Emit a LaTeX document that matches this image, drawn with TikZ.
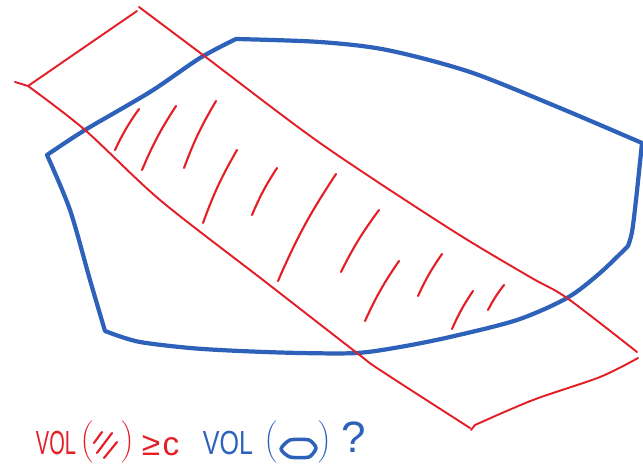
\documentclass[tikz,border=0pt]{standalone}
\usepackage{fontspec}
\setmainfont{Liberation Sans}
\definecolor{penred}{RGB}{228,30,38}
\definecolor{penblue}{RGB}{46,98,186}

\begin{document}
\begin{tikzpicture}[x=0.2mm, y=-0.2mm, line cap=round, line join=round,
    redpen/.style={draw=penred, line width=1.1pt},
    bluepen/.style={draw=penblue, line width=2.4pt},
    hatch/.style={draw=penred, line width=1.2pt},
    redtxt/.style={text=penred, inner sep=0pt},
    bluetxt/.style={text=penblue, inner sep=0pt},
    paren/.style={font=\fontsize{10.5}{12}\selectfont},
    word/.style={font=\fontsize{19}{21}\selectfont}]
  \useasboundingbox (0,0) rectangle (643,464);
  % convex body
  \draw[bluepen] plot[smooth, tension=0.5] coordinates {(47,155) (85,130) (150,92) (200,58) (236,39)}
    -- plot[smooth, tension=0.5] coordinates {(236,39) (320,42) (387,50) (470,72) (560,108) (642,143)}
    -- plot[smooth, tension=0.5] coordinates {(642,143) (636,200) (632,232) (628,246)}
    -- plot[smooth, tension=0.5] coordinates {(628,246) (600,273) (567,298) (517,320) (450,337) (400,347) (357,353) (300,353) (240,351) (190,348) (140,342) (113,334)}
    -- (105,331)
    -- plot[smooth, tension=0.5] coordinates {(105,331) (90,280) (70,210) (47,155)};
  % slab
  \draw[redpen] (15,82) -- (28,86) -- (137,11);
  \draw[redpen] plot[smooth, tension=0.5] coordinates {(139,7) (203,55) (320,143) (450,229) (530,277) (567,298) (637,352)};
  \draw[redpen] plot[smooth, tension=0.5] coordinates {(28,86) (85,130) (160,200) (263,280) (357,353) (380,370) (470,428)};
  \draw[redpen] (471,430) -- plot[smooth, tension=0.5] coordinates {(475,425) (533,400) (600,377) (638,358)};
  % hatching
  \foreach \xa/\ya/\xb/\yb in {115/150/139/109, 142/170/176/106, 184/168/216/101, 203/223/237/150,
      252/215/277/168, 278/281/336/174, 341/272/379/210, 365/321/399/261, 418/296/442/254,
      452/329/473/291, 488/310/504/285}
    \draw[hatch] (\xa,\ya) to[bend left=5] (\xb,\yb);
  % question
  \node[redtxt, word] (volL) at (56,443) {\scalebox{0.6}[1]{VOL}};
  \node[redtxt, paren] (opL) at (87,442) {$\bigg($};
  \draw[hatch] (94,443) -- (102,432);
  \draw[hatch] (97,453) -- (112,433);
  \draw[hatch] (104,458) -- (117,442);
  \node[redtxt, paren] (clL) at (128,442) {$\bigg)$};
  \node[redtxt, word] (geq) at (151,445) {≥};
  \node[redtxt, word] (cst) at (171,447) {c};
  \node[bluetxt, word] (volR) at (228,443) {\scalebox{0.75}[1]{VOL}};
  \node[bluetxt, paren] (opR) at (271,442) {$\bigg($};
  \draw[bluepen, line width=2pt] plot[smooth cycle, tension=0.4] coordinates {(281,449) (290,440) (309,440) (316,448) (309,457) (290,457)};
  \node[bluetxt, paren] (clR) at (325,442) {$\bigg)$};
  \node[bluetxt, font=\fontsize{25}{27}\selectfont, inner sep=0pt] (qm) at (354,437) {?};
\end{tikzpicture}
\end{document}
